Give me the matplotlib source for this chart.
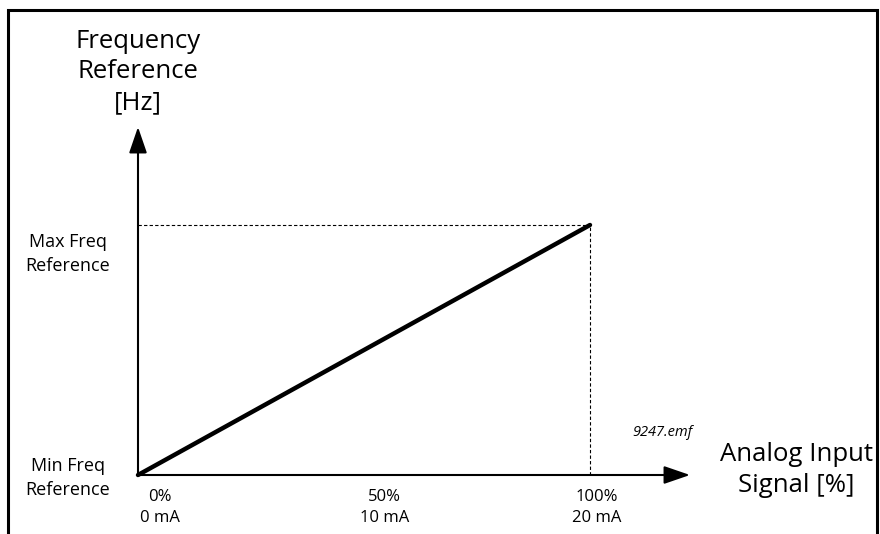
import matplotlib
matplotlib.use('Agg')
import matplotlib.pyplot as plt
from matplotlib.patches import Rectangle

# data: analog input (%) vs frequency reference (0 = min, 1 = max)
signal_pct = [0, 100]
freq_ref = [0, 1]
x_ticks = [0, 50, 100]
x_tick_labels = ['0%\n0 mA', '50%\n10 mA', '100%\n20 mA']
y_ticks = [0, 1]
y_tick_labels = ['Min Freq\nReference', 'Max Freq\nReference']

plt.rcParams['font.family'] = ['Open Sans', 'DejaVu Sans']

W, H = 880, 534
fig = plt.figure(figsize=(W / 100, H / 100), dpi=100)

# frame around the diagram (bottom edge runs off the picture)
fig.patches.append(Rectangle((8 / W, -0.05), (877 - 8) / W, (H - 10) / H + 0.05,
                             transform=fig.transFigure, fill=False,
                             lw=2.2, ec='black'))

ox, oy = 138, 475      # origin in px
px100, pymax = 590, 225
ax = fig.add_axes([ox / W, (H - oy) / H, (px100 - ox) / W, (oy - pymax) / H])
ax.set_xlim(0, 100)
ax.set_ylim(0, 1)
ax.axis('off')

# arrows for the axes
x_tip = (690 - ox) / (px100 - ox) * 100
y_tip = (oy - 127) / (oy - pymax)
arrow = dict(arrowstyle='-|>,head_length=1.6,head_width=0.55', lw=1.5,
             color='black', shrinkA=0, shrinkB=0)
ax.annotate('', xy=(x_tip, 0), xytext=(0, 0), arrowprops=arrow,
            annotation_clip=False)
ax.annotate('', xy=(0, y_tip), xytext=(0, 0), arrowprops=arrow,
            annotation_clip=False)

# dashed guides
ax.plot([0, signal_pct[1]], [freq_ref[1], freq_ref[1]], ls=(0, (3, 2)),
        lw=0.8, color='black', clip_on=False)
ax.plot([signal_pct[1], signal_pct[1]], [0, freq_ref[1]], ls=(0, (3, 2)),
        lw=0.8, color='black', clip_on=False)

# characteristic
ax.plot(signal_pct, freq_ref, lw=3.2, color='black', solid_capstyle='round',
        clip_on=False)

# tick labels (small shifts to the right, as in the original)
x_shift = [4.9, 4.6, 1.5]
for xt, lab, dx in zip(x_ticks, x_tick_labels, x_shift):
    ax.text(xt + dx, -0.055, lab, ha='center', va='top', fontsize=12,
            linespacing=1.45)
y_pos = [-0.012, 0.884]
for yp, lab in zip(y_pos, y_tick_labels):
    ax.text(-15.5, yp, lab, ha='center', va='center', fontsize=13,
            linespacing=1.45)

# axis titles
fig.text(138 / W, 1 - 72 / H, 'Frequency\nReference\n[Hz]', ha='center',
         va='center', fontsize=18.5, linespacing=1.3)
fig.text(796 / W, 1 - 470 / H, 'Analog Input\nSignal [%]', ha='center',
         va='center', fontsize=18.5, linespacing=1.3)
fig.text(662 / W, 1 - 432 / H, '9247.emf', ha='center', va='center',
         fontsize=10.5, style='italic')

fig.savefig('out.png', dpi=100)
